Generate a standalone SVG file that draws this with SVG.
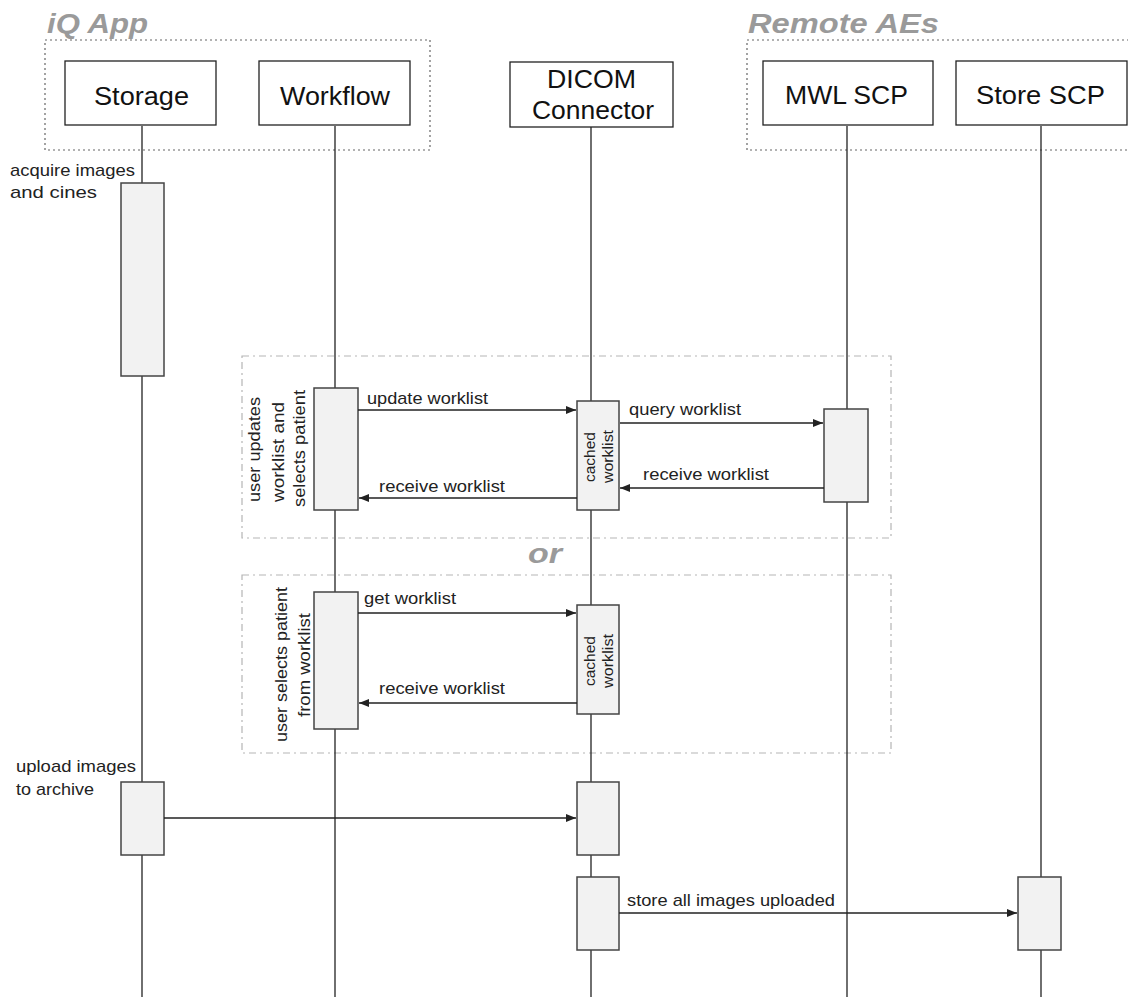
<svg xmlns="http://www.w3.org/2000/svg" width="1128" height="997" viewBox="0 0 1128 997">
<style>
text{font-family:"Liberation Sans",Arial,sans-serif;fill:#222}
.hdr{font-size:25px;text-anchor:middle;fill:#111}
.title{font-size:27px;font-weight:bold;font-style:italic;fill:#9a9a9a}
.msg{font-size:17px}
.note{font-size:17px}
.small{font-size:14px}
.head{fill:#fff;stroke:#222;stroke-width:1.3}
.life{stroke:#222;stroke-width:1.3;fill:none}
.act{fill:#f2f2f2;stroke:#444;stroke-width:1.5}
.grp{fill:none;stroke:#666;stroke-width:1.2;stroke-dasharray:2 3}
.frag{fill:none;stroke:#b5b5b5;stroke-width:1.2;stroke-dasharray:7 4 2 4}
.arr{stroke:#222;stroke-width:1.3;fill:none;marker-end:url(#ah)}
</style>
<defs>
<marker id="ah" viewBox="0 0 10 8" refX="10" refY="4" markerWidth="10" markerHeight="8" markerUnits="userSpaceOnUse" orient="auto">
<path d="M0,0 L10,4 L0,8 Z" fill="#222"/>
</marker>
</defs>
<rect width="1128" height="997" fill="#fff"/>

<g id="group-iq">
<rect class="grp" x="45" y="40" width="385" height="110"/>
<text class="title" x="47" y="33" textLength="101" lengthAdjust="spacingAndGlyphs">iQ App</text>
</g>
<g id="group-remote">
<rect class="grp" x="747" y="40" width="395" height="110"/>
<text class="title" x="748" y="33" textLength="191" lengthAdjust="spacingAndGlyphs">Remote AEs</text>
</g>

<g id="fragments">
<rect class="frag" x="242" y="356" width="649" height="182"/>
<rect class="frag" x="242" y="575" width="649" height="178"/>
<text class="title" x="528" y="563" textLength="34" lengthAdjust="spacingAndGlyphs">or</text>
</g>

<g id="lifelines">
<line class="life" x1="142" y1="126" x2="142" y2="997"/>
<line class="life" x1="335" y1="126" x2="335" y2="997"/>
<line class="life" x1="591" y1="127" x2="591" y2="997"/>
<line class="life" x1="847" y1="126" x2="847" y2="997"/>
<line class="life" x1="1041" y1="126" x2="1041" y2="997"/>
</g>

<g id="storage">
<rect class="head" x="65" y="61" width="151" height="64"/>
<text class="hdr" x="141.5" y="105" textLength="95" lengthAdjust="spacingAndGlyphs">Storage</text>
</g>
<g id="workflow">
<rect class="head" x="259" y="61" width="151" height="64"/>
<text class="hdr" x="335" y="105" textLength="110" lengthAdjust="spacingAndGlyphs">Workflow</text>
</g>
<g id="dicom">
<rect class="head" x="510" y="62" width="163" height="65"/>
<text class="hdr" x="591.5" y="88" textLength="89" lengthAdjust="spacingAndGlyphs">DICOM</text>
<text class="hdr" x="593" y="119" textLength="122" lengthAdjust="spacingAndGlyphs">Connector</text>
</g>
<g id="mwl">
<rect class="head" x="763" y="61" width="170" height="64"/>
<text class="hdr" x="846.5" y="104" textLength="123" lengthAdjust="spacingAndGlyphs">MWL SCP</text>
</g>
<g id="store">
<rect class="head" x="956" y="61" width="171" height="64"/>
<text class="hdr" x="1040.5" y="104" textLength="129" lengthAdjust="spacingAndGlyphs">Store SCP</text>
</g>

<g id="act-storage-1">
<rect class="act" x="121" y="183" width="43" height="193"/>
<text class="note" x="10" y="176" textLength="125" lengthAdjust="spacingAndGlyphs">acquire images</text>
<text class="note" x="10" y="198" textLength="87" lengthAdjust="spacingAndGlyphs">and cines</text>
</g>

<g id="act-workflow-1">
<rect class="act" x="314" y="388" width="44" height="122"/>
<text class="note" transform="translate(260,449.5) rotate(-90)" text-anchor="middle" textLength="105" lengthAdjust="spacingAndGlyphs">user updates</text>
<text class="note" transform="translate(284,452) rotate(-90)" text-anchor="middle" textLength="100" lengthAdjust="spacingAndGlyphs">worklist and</text>
<text class="note" transform="translate(305,448.5) rotate(-90)" text-anchor="middle" textLength="117" lengthAdjust="spacingAndGlyphs">selects patient</text>
</g>
<g id="act-dicom-1">
<rect class="act" x="577" y="401" width="42" height="109"/>
<text class="small" transform="translate(595,457) rotate(-90)" text-anchor="middle" textLength="50" lengthAdjust="spacingAndGlyphs">cached</text>
<text class="small" transform="translate(613,456.5) rotate(-90)" text-anchor="middle" textLength="53" lengthAdjust="spacingAndGlyphs">worklist</text>
</g>
<g id="act-mwl-1">
<rect class="act" x="824" y="409" width="44" height="93"/>
</g>

<g id="act-workflow-2">
<rect class="act" x="314" y="592" width="44" height="137"/>
<text class="note" transform="translate(287,664.5) rotate(-90)" text-anchor="middle" textLength="155" lengthAdjust="spacingAndGlyphs">user selects patient</text>
<text class="note" transform="translate(310,665) rotate(-90)" text-anchor="middle" textLength="104" lengthAdjust="spacingAndGlyphs">from worklist</text>
</g>
<g id="act-dicom-2">
<rect class="act" x="577" y="605" width="42" height="109"/>
<text class="small" transform="translate(595,661) rotate(-90)" text-anchor="middle" textLength="50" lengthAdjust="spacingAndGlyphs">cached</text>
<text class="small" transform="translate(613,661) rotate(-90)" text-anchor="middle" textLength="54" lengthAdjust="spacingAndGlyphs">worklist</text>
</g>

<g id="act-storage-2">
<rect class="act" x="121" y="782" width="43" height="73"/>
<text class="note" x="16" y="772" textLength="120" lengthAdjust="spacingAndGlyphs">upload images</text>
<text class="note" x="16" y="795" textLength="78" lengthAdjust="spacingAndGlyphs">to archive</text>
</g>
<g id="act-dicom-3">
<rect class="act" x="577" y="782" width="42" height="73"/>
</g>
<g id="act-dicom-4">
<rect class="act" x="577" y="877" width="42" height="73"/>
</g>
<g id="act-store-1">
<rect class="act" x="1018" y="877" width="43" height="73"/>
</g>

<g id="connectors">
<line class="arr" x1="358" y1="410" x2="576" y2="410"/>
<text class="msg" x="367" y="404" textLength="121" lengthAdjust="spacingAndGlyphs">update worklist</text>
<line class="arr" x1="620" y1="423" x2="823" y2="423"/>
<text class="msg" x="629" y="415" textLength="112" lengthAdjust="spacingAndGlyphs">query worklist</text>
<line class="arr" x1="824" y1="488" x2="620" y2="488"/>
<text class="msg" x="643" y="480" textLength="126" lengthAdjust="spacingAndGlyphs">receive worklist</text>
<line class="arr" x1="577" y1="498" x2="359" y2="498"/>
<text class="msg" x="379" y="492" textLength="126" lengthAdjust="spacingAndGlyphs">receive worklist</text>
<line class="arr" x1="358" y1="613" x2="576" y2="613"/>
<text class="msg" x="364" y="604" textLength="92" lengthAdjust="spacingAndGlyphs">get worklist</text>
<line class="arr" x1="577" y1="703" x2="359" y2="703"/>
<text class="msg" x="379" y="694" textLength="126" lengthAdjust="spacingAndGlyphs">receive worklist</text>
<line class="arr" x1="164" y1="818" x2="576" y2="818"/>
<line class="arr" x1="619" y1="913" x2="1017" y2="913"/>
<text class="msg" x="627" y="906" textLength="208" lengthAdjust="spacingAndGlyphs">store all images uploaded</text>
</g>
</svg>
